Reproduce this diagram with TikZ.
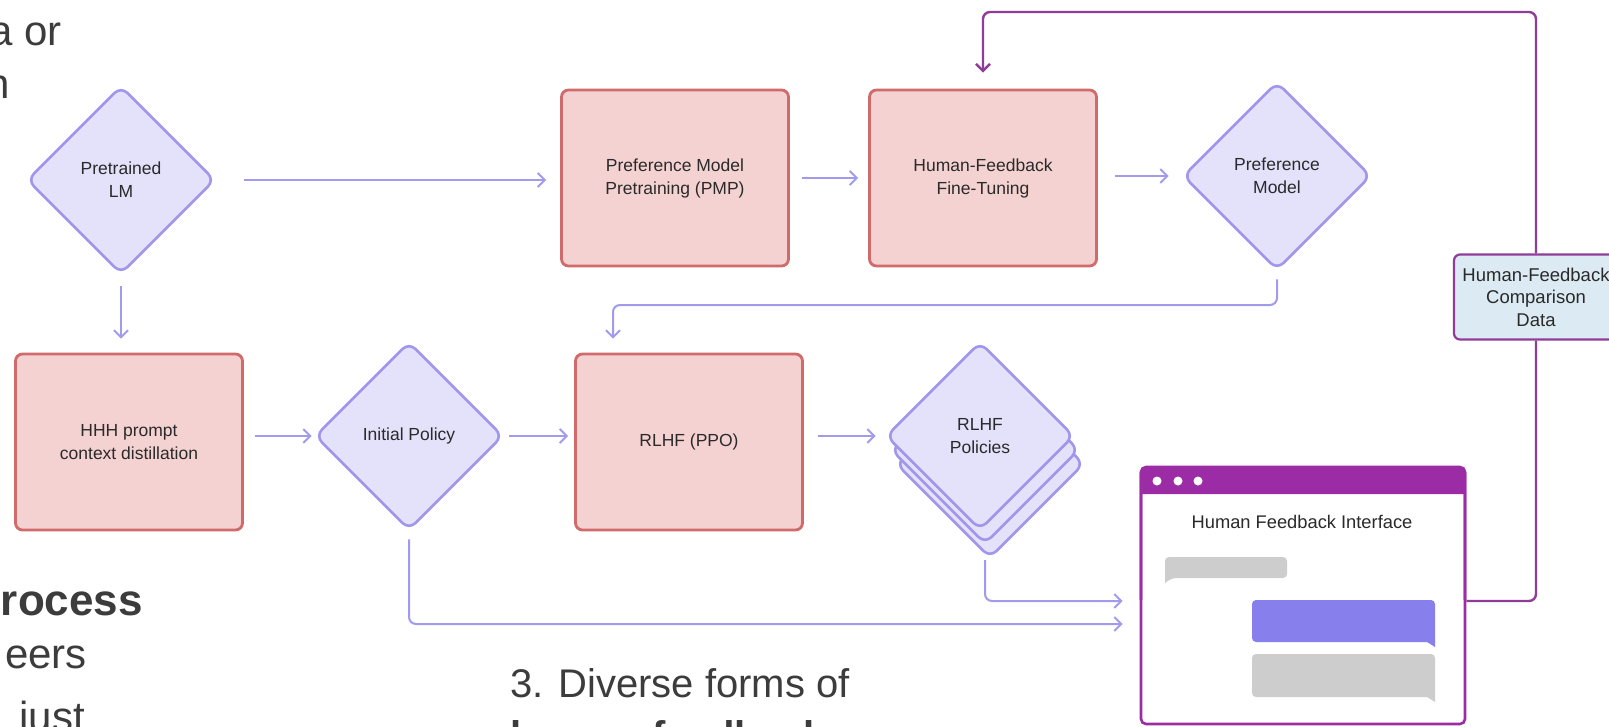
\documentclass[tikz,border=0pt]{standalone}
\usepackage{fontspec}
\setmainfont{Liberation Sans}
\usetikzlibrary{arrows.meta,shapes.geometric}
\definecolor{lav}{HTML}{E4E1FA}
\definecolor{lavd}{HTML}{A097EC}
\definecolor{lavc}{HTML}{A19BEE}
\definecolor{pinkf}{HTML}{F5D2D2}
\definecolor{redd}{HTML}{D06A6B}
\definecolor{purp}{HTML}{8F3D99}
\definecolor{purpbar}{HTML}{9B2CA5}
\definecolor{bluef}{HTML}{DCEAF3}
\definecolor{bubp}{HTML}{8780EC}
\definecolor{bubg}{HTML}{CDCDCD}
\definecolor{txt}{HTML}{2A2A2A}
\definecolor{slide}{HTML}{3C3C3C}
\tikzset{
  dtext/.style={font=\fontsize{17.5}{23}\selectfont, text=txt, align=center},
  diam/.style={shape=diamond, draw=lavd, fill=lav, line width=2.6pt, minimum width=188pt, minimum height=188pt, inner sep=0pt, rounded corners=9pt, dtext},
  rbox/.style={rectangle, draw=redd, fill=pinkf, line width=2.8pt, minimum width=227pt, minimum height=176pt, rounded corners=7pt, dtext},
  hfbox/.style={rectangle, draw=purp, fill=bluef, line width=2.2pt, minimum width=164pt, minimum height=85pt, rounded corners=6pt, dtext, font=\fontsize{18.5}{22.5}\selectfont},
  winbox/.style={rectangle, draw=purpbar, fill=white, line width=2.6pt, minimum width=324pt, minimum height=256pt, rounded corners=5pt},
  conn/.style={draw=lavc, line width=2pt, -{Straight Barb[length=7pt,width=14pt]}, rounded corners=7pt},
  loopc/.style={draw=purp, line width=2.4pt, rounded corners=7pt},
  slidetext/.style={font=\fontsize{40.5}{50}\selectfont, text=slide, inner sep=0pt},
}
\begin{document}
\begin{tikzpicture}[x=1pt,y=-1pt]
\useasboundingbox (0,0) rectangle (1609,726);
\clip (0,0) rectangle (1609,726);
\fill[white] (0,0) rectangle (1609,726);

% slide text behind
\node[slidetext, anchor=base east, font=\fontsize{42}{50}\selectfont] (s1) at (62,45) {a or};
\node[slidetext, anchor=base east, font=\fontsize{42}{50}\selectfont] (s2) at (10,98) {n};
\node[slidetext, anchor=base east, font=\fontsize{44}{50}\selectfont\bfseries] (s3) at (143,615) {rocess};
\node[slidetext, anchor=base east, font=\fontsize{42}{50}\selectfont] (s4) at (87,668) {eers};
\node[slidetext, anchor=base east, font=\fontsize{42}{50}\selectfont] (s5) at (85,731) {just};
\node[slidetext, anchor=base west, font=\fontsize{40}{50}\selectfont] (s6) at (510,697) {3. Diverse forms of};
\node[slidetext, anchor=base west, font=\fontsize{40}{50}\selectfont\bfseries] (s7) at (510,749) {human feedback};

% coordinates
\coordinate (lt) at (0,12);
\coordinate (hy) at (0,601);
\coordinate (iy) at (0,624);
\coordinate (pmr) at (613,305);
\coordinate (polb) at (985,560);

% nodes
\node[diam] (plm) at (121,180) {Pretrained\\LM};
\node[rbox] (pmp) at (675,178) {Preference Model\\Pretraining (PMP)};
\node[rbox] (hfft) at (983,178) {Human-Feedback\\Fine-Tuning};
\node[diam] (pm) at (1277,176) {Preference\\Model};
\node[hfbox] (hfcd) at (1536,297) {Human-Feedback\\Comparison\\Data};
\node[rbox] (hhh) at (129,442) {HHH prompt\\context distillation};
\node[diam] (ip) at (409,436) {Initial Policy};
\node[rbox] (rlhf) at (689,442) {RLHF (PPO)};
\node[diam] (pol3) at (990,464) {};
\node[diam] (pol2) at (985,450) {};
\node[diam] (pol) at (980,436) {RLHF\\Policies};

% window
\node[winbox] (win) at (1303,596) {};
\fill[purpbar] (1141,494) -- (1141,473) [rounded corners=5pt] -- (1141,467) -- (1465,467) [sharp corners] -- (1465,473) -- (1465,494) -- cycle;
\draw[purpbar, line width=2.6pt, rounded corners=5pt] (1141,600) -- (1141,467) -- (1465,467) -- (1465,600);
\fill[white] (1157,481) circle (4.5) (1178,481) circle (4.5) (1198,481) circle (4.5);
\node[dtext, font=\fontsize{18.3}{22}\selectfont] (wtitle) at (1302,522) {Human Feedback Interface};
\fill[bubg, rounded corners=4pt] (1165,557) -- (1287,557) -- (1287,578) -- (1172,578) [sharp corners] -- (1165,583) [rounded corners=4pt] -- cycle;
\fill[bubp, rounded corners=4pt] (1252,600) -- (1435,600) [sharp corners] -- (1435,647) -- (1427,642) [rounded corners=4pt] -- (1252,642) -- cycle;
\fill[bubg, rounded corners=4pt] (1252,654) -- (1435,654) [sharp corners] -- (1435,702) -- (1427,697) [rounded corners=4pt] -- (1252,697) -- cycle;

% connectors
\draw[conn, shorten <=28pt, shorten >=14pt] (plm.east) -- (plm.east -| pmp.west);
\draw[conn, shorten <=12pt, shorten >=10pt] (pmp.east) -- (pmp.east -| hfft.west);
\draw[conn, shorten <=17pt, shorten >=13pt] (hfft.east |- pm.west) -- (pm.west);
\draw[conn, shorten <=11pt, shorten >=14pt] (plm.south) -- (plm.south |- hhh.north);
\draw[conn, shorten <=11pt, shorten >=2pt] (hhh.east |- ip.west) -- (ip.west);
\draw[conn, shorten <=5pt, shorten >=6pt] (ip.east) -- (ip.east -| rlhf.west);
\draw[conn, shorten <=14pt, shorten >=9pt] (rlhf.east |- pol.west) -- (pol.west);
\draw[conn, shorten <=8pt, shorten >=14pt] (pm.south) |- (pmr) -- (pmr |- rlhf.north);
\draw[conn, shorten >=17pt] (polb) |- (win.west |- hy);
\draw[conn, shorten <=8pt, shorten >=17pt] (ip.south) |- (win.west |- iy);
\draw[loopc, -{Straight Barb[length=7pt,width=14pt]}, shorten >=16pt] (hfcd.north) |- (hfft.north |- lt) -- (hfft.north);
\draw[loopc] (hfcd.south) |- (win.east |- hy);
\end{tikzpicture}
\end{document}
